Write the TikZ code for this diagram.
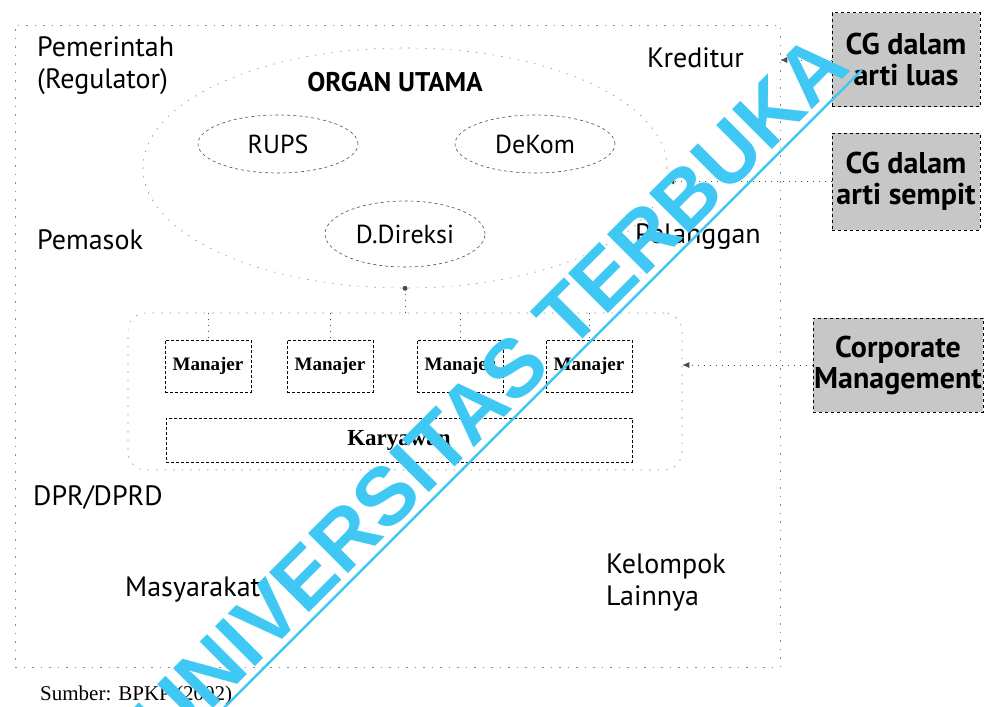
\documentclass[tikz,border=0pt]{standalone}
\usepackage{fontspec}
\setmainfont{PT Sans}
\newfontfamily\serifrm{Liberation Serif}
\newfontfamily\wmfont{Liberation Sans}
\usetikzlibrary{arrows.meta,shapes.geometric}
\definecolor{wmcyan}{RGB}{64,200,245}

\begin{document}
\begin{tikzpicture}[
  x=1pt, y=-1pt,
  faint/.style={draw=black!45, line width=0.6pt, dash pattern=on 1.5pt off 7pt, inner sep=0pt},
  organ/.style={ellipse, draw=black!70, line width=0.6pt, dash pattern=on 3pt off 3pt, minimum width=160pt, minimum height=58pt, inner sep=0pt, font=\fontsize{26}{28}\selectfont},
  pihak/.style={font=\fontsize{28}{32}\selectfont, align=left, inner sep=0pt, anchor=west},
  manbox/.style={draw, densely dashed, line width=0.8pt, minimum width=86pt, minimum height=52pt, inner sep=0pt, font=\serifrm\bfseries\fontsize{19}{21}\selectfont},
  cgbox/.style={draw, dashed, line width=1pt, fill=black!22, inner sep=0pt, align=center, font=\bfseries\fontsize{30}{31}\selectfont},
  conn/.style={draw=black!70, line width=0.7pt, dash pattern=on 1pt off 5pt},
  tip/.style={-{Latex[length=7pt,width=6pt]}}
]

  \useasboundingbox (0,0) rectangle (984,706);

  % Lingkup luar (CG dalam arti luas)
  \node[faint, draw, minimum width=765pt, minimum height=642pt] (luas) at (397.5,346) {};

  % Organ utama
  \node[faint, draw, ellipse, minimum width=524pt, minimum height=240pt] (organ) at (405,168) {};
  \node[font=\bfseries\fontsize{27}{29}\selectfont] (judul) at (395,82) {ORGAN UTAMA};
  \node[organ] (rups) at (278,144) {RUPS};
  \node[organ] (dekom) at (535,144) {DeKom};
  \node[organ, minimum height=66pt] (direksi) at (405,234) {D.Direksi};

  % Manajemen dan karyawan
  \node[faint, draw, rounded corners=18pt, minimum width=554pt, minimum height=157pt] (manajemen) at (405,391.5) {};
  \node[manbox] (m1) at (208,366) {Manajer};
  \node[manbox] (m2) at (330,366) {Manajer};
  \node[manbox] (m3) at (460,366) {Manajer};
  \node[manbox] (m4) at (589,366) {Manajer};
  \node[manbox, minimum width=466pt, minimum height=44pt, font=\serifrm\bfseries\fontsize{23}{25}\selectfont] (karyawan) at (399,440) {Karyawan};

  \draw[conn] (organ.south) -- (organ.south |- manajemen.north);
  \fill[black!70] (organ.south) circle (2.5pt);
  \foreach \m in {m1,m2,m3,m4}
    \draw[conn] (\m.north |- manajemen.north) -- (\m.north);

  % Pihak-pihak yang berkepentingan
  \node[pihak] (pemerintah) at (37,66) {Pemerintah\\(Regulator)};
  \node[pihak] (kreditur) at (647,58) {Kreditur};
  \node[pihak] (pemasok) at (37,240) {Pemasok};
  \node[pihak] (pelanggan) at (635,237) {Pelanggan};
  \node[pihak] (dpr) at (33,497) {DPR/DPRD};
  \node[pihak] (masyarakat) at (125,590) {Masyarakat};
  \node[pihak] (kelompok) at (606,583) {Kelompok\\Lainnya};

  % Cakupan CG
  \node[cgbox, minimum width=148pt, minimum height=94pt] (cgluas) at (906,60) {CG dalam\\arti luas};
  \node[cgbox, minimum width=148pt, minimum height=97pt] (cgsempit) at (906,181.5) {CG dalam\\arti sempit};
  \node[cgbox, minimum width=170pt, minimum height=94pt] (cm) at (898,365) {Corporate\\Management};

  \draw[conn, tip] (cgluas.west) -- (cgluas.west -| luas.east);
  \draw[conn, tip] (cgsempit.west) -- (cgsempit.west -| organ.east);
  \draw[conn, tip] (cm.west) -- (cm.west -| manajemen.east);

  % Sumber
  \node[font=\serifrm\fontsize{21}{23}\selectfont, anchor=west, inner sep=0pt] (sumber) at (40,695) {Sumber: BPKP (2002)};

  % Tanda air
  \node[text=wmcyan, font=\wmfont\bfseries\fontsize{82}{84}\selectfont, rotate=45, anchor=base, inner sep=6pt] (wm) at (510,412) {UNIVERSITAS TERBUKA};
  \draw[wmcyan, line width=2.5pt] (wm.south west) -- (wm.south east);

\end{tikzpicture}
\end{document}
